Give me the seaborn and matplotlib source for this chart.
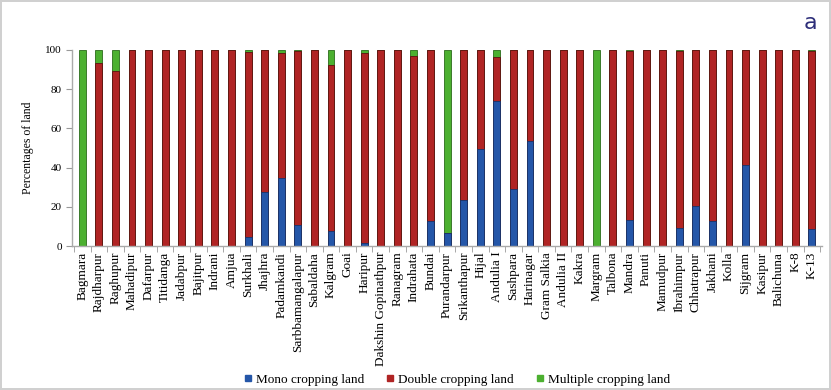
import numpy as np
import pandas as pd
import matplotlib
matplotlib.use('Agg')
import matplotlib.pyplot as plt
from matplotlib.lines import Line2D
import seaborn as sns

sns.set_style('white')
plt.rcParams['font.family'] = ['Liberation Serif', 'DejaVu Serif']
plt.rcParams['text.color'] = 'black'
plt.rcParams['axes.labelcolor'] = 'black'
plt.rcParams['xtick.color'] = 'black'
plt.rcParams['ytick.color'] = 'black'

villages = ['Bagmara', 'Rajdharpur', 'Raghupur', 'Mahadipur', 'Dafarpur', 'Titidanga',
            'Jadabpur', 'Bajitpur', 'Indrani', 'Amjua', 'Surkhali', 'Jhajhra', 'Padamkandi',
            'Sarbbamangalapur', 'Sabaldaha', 'Kalgram', 'Goai', 'Haripur',
            'Dakshin Gopinathpur', 'Ranagram', 'Indrahata', 'Bundai', 'Purandarpur',
            'Srikanthapur', 'Hijal', 'Andulia I', 'Sashpara', 'Harinagar', 'Gram Salkia',
            'Andulia II', 'Kakra', 'Margram', 'Talbona', 'Mandra', 'Panuti', 'Mamudpur',
            'Ibrahimpur', 'Chhatrapur', 'Jakhani', 'Kolla', 'Sijgram', 'Kasipur',
            'Balichuna', 'K-8', 'K-13']

mono = [0, 0, 0, 0, 0, 0, 0, 0, 0, 0, 4.5, 27.5, 34.5, 11, 0, 7.5, 0, 1.7, 0, 0,
        0, 13, 6.6, 23.6, 49.5, 73.8, 29.2, 53.8, 0, 0, 0, 0, 0, 13.5, 0, 0,
        9, 20.5, 12.7, 0, 41.3, 0, 0, 0, 8.6]
double = [0, 93.5, 89.4, 100, 100, 100, 100, 100, 100, 100, 94.5, 72.5, 64, 88.3, 100, 85, 100, 96.8, 100, 100,
          96.9, 87, 0, 76.4, 50.5, 22.6, 70.8, 46.2, 100, 100, 100, 0, 100, 86, 100, 100,
          90.5, 79.5, 87.3, 100, 58.7, 100, 100, 100, 90.9]
multi = [100, 6.5, 10.6, 0, 0, 0, 0, 0, 0, 0, 1, 0, 1.5, 0.7, 0, 7.5, 0, 1.5, 0, 0,
         3.1, 0, 93.4, 0, 0, 3.6, 0, 0, 0, 0, 0, 100, 0, 0.5, 0, 0,
         0.5, 0, 0, 0, 0, 0, 0, 0, 0.5]

series = ['Mono cropping land', 'Double cropping land', 'Multiple cropping land']
colors = ['#2456a8', '#b02424', '#4cb030']
edges = ['#17346b', '#5e1010', '#2b6b1a']

df = pd.DataFrame({'village': villages, 'mono': mono, 'double': double, 'multi': multi})
df['top_double'] = df['mono'] + df['double']
df['top_multi'] = df['top_double'] + df['multi']

fig = plt.figure(figsize=(8.31, 3.9), dpi=100)
ax = fig.add_axes([0.087, 0.369, 0.902, 0.503])

# stacked: draw the cumulative totals back to front
for col, c, e in zip(['top_multi', 'top_double', 'mono'], colors[::-1], edges[::-1]):
    sns.barplot(data=df, x='village', y=col, order=villages, color=c,
                width=0.42, edgecolor=e, linewidth=0.6, saturation=1, ax=ax)

ax.set_ylim(0, 100)
ax.set_xlim(-0.6, len(villages) - 0.4)
ax.set_yticks(np.arange(0, 101, 20))
ax.set_ylabel('Percentages of land', fontsize=8.5, labelpad=8)
ax.set_xlabel('')
ax.tick_params(axis='y', labelsize=8, length=4, color='#999999', direction='out', left=True)
ax.tick_params(axis='x', which='major', labelsize=9.5, length=0, rotation=90, pad=4)
ax.set_xticks(np.arange(len(villages) + 1) - 0.5, minor=True)
ax.tick_params(axis='x', which='minor', length=4, color='#999999', bottom=True)
for s in ['top', 'right']:
    ax.spines[s].set_visible(False)
for s in ['left', 'bottom']:
    ax.spines[s].set_color('#aaaaaa')
    ax.spines[s].set_linewidth(1)

handles = [Line2D([0], [0], marker='s', linestyle='', markersize=5,
                  markerfacecolor=c, markeredgecolor=c) for c in colors]
fig.legend(handles, series, loc='lower center', bbox_to_anchor=(0.549, -0.02), ncol=3,
           frameon=False, fontsize=9.5, handlelength=0.8, handletextpad=0.2,
           columnspacing=1.6)

fig.text(0.984, 0.915, 'a', fontsize=16, color='#2e2f7a', family='DejaVu Sans',
         ha='right', va='bottom')

fig.patch.set_edgecolor('#d0d0d0')
fig.patch.set_linewidth(1.5)

fig.savefig('out.png', dpi=100)
